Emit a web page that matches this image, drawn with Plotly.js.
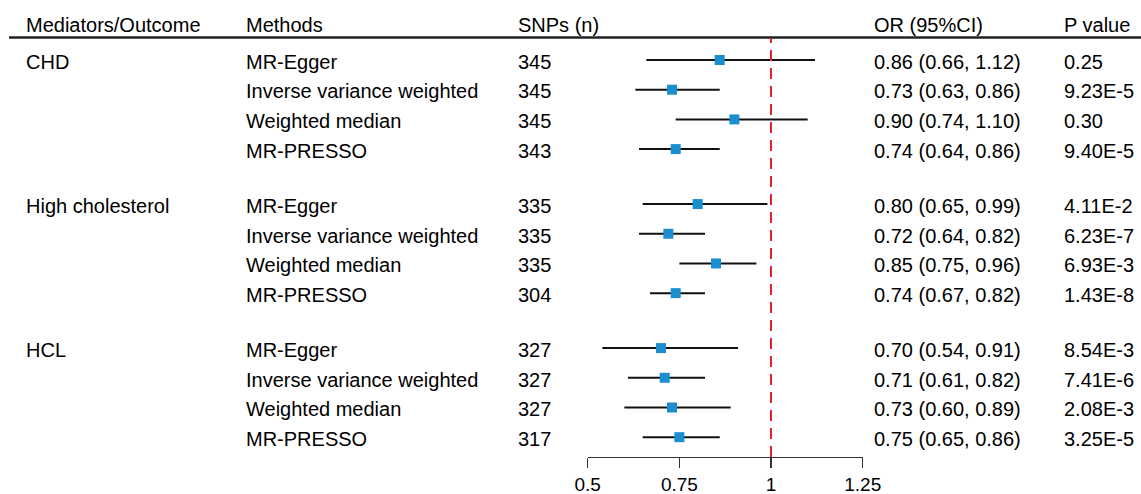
<!DOCTYPE html>
<html>
<head>
<meta charset="utf-8">
<script src="https://cdn.plot.ly/plotly-3.0.1.min.js"></script>
<style>html,body{margin:0;padding:0;background:#fff;}#chart{width:1141px;height:494px;}</style>
</head>
<body>
<div id="chart"></div>
<script>
// ---- data ----
const outcomes = ["CHD", "High cholesterol", "HCL"];
const methods = ["MR-Egger", "Inverse variance weighted", "Weighted median", "MR-PRESSO"];
const snps = [345, 345, 345, 343, 335, 335, 335, 304, 327, 327, 327, 317];
const orVals = [0.86, 0.73, 0.90, 0.74, 0.80, 0.72, 0.85, 0.74, 0.70, 0.71, 0.73, 0.75];
const ciLow  = [0.66, 0.63, 0.74, 0.64, 0.65, 0.64, 0.75, 0.67, 0.54, 0.61, 0.60, 0.65];
const ciHigh = [1.12, 0.86, 1.10, 0.86, 0.99, 0.82, 0.96, 0.82, 0.91, 0.82, 0.89, 0.86];
const pValues = ["0.25", "9.23E-5", "0.30", "9.40E-5", "4.11E-2", "6.23E-7", "6.93E-3", "1.43E-8", "8.54E-3", "7.41E-6", "2.08E-3", "3.25E-5"];
const headers = ["Mediators/Outcome", "Methods", "SNPs (n)", "OR (95%CI)", "P value"];
const tickVals = [0.5, 0.75, 1, 1.25];
const tickText = ["0.5", "0.75", "1", "1.25"];

// ---- layout helpers ----
const W = 1141, H = 494, B = 37;
const plotH = H - B;
const groupStep = 4.85;
const rowPx = 29.7, firstRowPx = 60;
const colX = [25, 245, 517, 873, 1063];
const FONT = "Liberation Sans, Arial, sans-serif";

const ypos = [];
orVals.forEach((v, k) => {
  const g = Math.floor(k / 4), i = k % 4;
  ypos.push(g * groupStep + i);
});
const fmt = v => v.toFixed(2);

const trace = {
  type: "scatter",
  mode: "markers",
  x: orVals,
  y: ypos,
  cliponaxis: false,
  marker: {symbol: "square", size: 10, color: "#1b8ecf", line: {width: 0}},
  error_x: {
    type: "data", symmetric: false,
    array: orVals.map((v, k) => ciHigh[k] - v),
    arrayminus: orVals.map((v, k) => v - ciLow[k]),
    width: 0, thickness: 2, color: "#111"
  },
  hoverinfo: "skip",
  showlegend: false
};

const ann = [];
const px = x => (x - 1) / W;
const headY = 1 - 25 / plotH;
headers.forEach((h, c) => {
  ann.push({xref: "paper", yref: "paper", x: px(colX[c]), y: headY, xanchor: "left", yanchor: "middle",
    text: h, showarrow: false, font: {family: FONT, size: 20, color: "#000"}});
});
orVals.forEach((v, k) => {
  const g = Math.floor(k / 4), i = k % 4;
  const yy = ypos[k] + 0.06;
  const cells = [];
  if (i === 0) cells.push([0, outcomes[g]]);
  cells.push([1, methods[i]]);
  cells.push([2, String(snps[k])]);
  cells.push([3, fmt(v) + " (" + fmt(ciLow[k]) + ", " + fmt(ciHigh[k]) + ")"]);
  cells.push([4, pValues[k]]);
  cells.forEach(([c, t]) => {
    ann.push({xref: "paper", yref: "y", x: px(colX[c]), y: yy, xanchor: "left", yanchor: "middle",
      text: t, showarrow: false, font: {family: FONT, size: 20, color: "#000"}});
  });
});

const layout = {
  width: W, height: H,
  margin: {l: 0, r: 0, t: 0, b: B, pad: 0},
  paper_bgcolor: "#fff", plot_bgcolor: "#fff",
  showlegend: false,
  xaxis: {
    domain: [587.7 / W, 862.7 / W],
    range: [0.5, 1.25],
    tickvals: tickVals, ticktext: tickText,
    ticks: "outside", ticklen: 10, tickwidth: 1.3, tickcolor: "#333",
    showline: true, linecolor: "#333", linewidth: 1.3,
    showgrid: false, zeroline: false,
    tickfont: {family: FONT, size: 19, color: "#000"}
  },
  yaxis: {
    range: [(plotH - firstRowPx) / rowPx, -firstRowPx / rowPx],
    visible: false, showgrid: false, zeroline: false
  },
  shapes: [
    {type: "line", xref: "paper", yref: "paper", x0: 9 / W, x1: 1, y0: 1 - 37.5 / plotH, y1: 1 - 37.5 / plotH,
      line: {color: "#222", width: 2.5}},
    {type: "line", xref: "x", yref: "paper", x0: 1, x1: 1, y0: 0, y1: 1 - 38 / plotH,
      line: {color: "#e8202a", width: 2, dash: "11px,7px"}}
  ],
  annotations: ann
};

Plotly.newPlot("chart", [trace], layout, {displayModeBar: false, staticPlot: true});
</script>
</body>
</html>
